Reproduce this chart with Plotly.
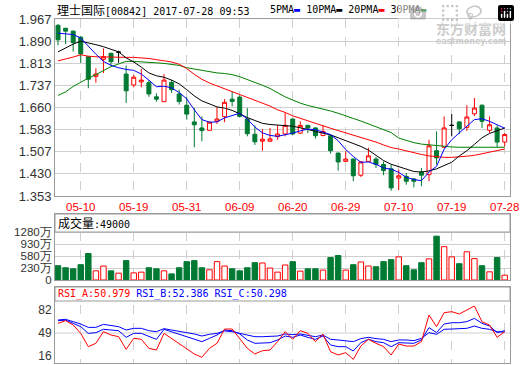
import plotly.graph_objects as go

dates = ['05-05','05-08','05-09','05-10','05-11','05-12','05-15','05-16','05-17','05-18',
         '05-19','05-22','05-23','05-24','05-25','05-26','05-29','05-31','06-01','06-02',
         '06-05','06-06','06-07','06-08','06-09','06-12','06-13','06-14','06-15','06-16',
         '06-19','06-20','06-21','06-22','06-23','06-26','06-27','06-28','06-29','06-30',
         '07-03','07-04','07-05','07-06','07-07','07-10','07-11','07-12','07-13','07-14',
         '07-17','07-18','07-19','07-20','07-21','07-24','07-25','07-26','07-27','07-28']

open_ = [1.945,1.935,1.925,1.904,1.836,1.768,1.827,1.848,1.852,1.776,
         1.738,1.749,1.746,1.697,1.680,1.747,1.707,1.668,1.610,1.589,
         1.581,1.612,1.628,1.689,1.696,1.620,1.567,1.543,1.543,1.559,
         1.568,1.620,1.571,1.598,1.589,1.563,1.562,1.502,1.473,1.481,
         1.425,1.473,1.481,1.462,1.447,1.415,1.421,1.412,1.436,1.427,
         1.510,1.522,1.598,1.610,1.591,1.638,1.668,1.581,1.589,1.540]
high = [1.950,1.936,1.927,1.908,1.839,1.796,1.865,1.850,1.857,1.806,
        1.773,1.794,1.755,1.709,1.776,1.756,1.722,1.696,1.658,1.629,
        1.611,1.661,1.689,1.716,1.702,1.658,1.598,1.585,1.589,1.598,
        1.641,1.622,1.612,1.600,1.592,1.598,1.565,1.503,1.508,1.483,
        1.474,1.520,1.488,1.473,1.462,1.444,1.433,1.415,1.450,1.548,
        1.577,1.629,1.637,1.612,1.668,1.693,1.670,1.629,1.598,1.571]
low = [1.876,1.880,1.854,1.815,1.727,1.746,1.779,1.807,1.815,1.676,
       1.730,1.730,1.697,1.680,1.680,1.711,1.670,1.618,1.522,1.543,
       1.579,1.603,1.609,1.664,1.626,1.560,1.530,1.510,1.541,1.548,
       1.560,1.565,1.568,1.571,1.552,1.560,1.500,1.441,1.470,1.404,
       1.419,1.473,1.450,1.425,1.371,1.373,1.392,1.383,1.387,1.404,
       1.462,1.520,1.560,1.568,1.579,1.630,1.589,1.572,1.522,1.525]
close = [1.895,1.925,1.885,1.846,1.758,1.776,1.836,1.819,1.852,1.718,
         1.765,1.755,1.707,1.689,1.755,1.722,1.681,1.637,1.600,1.580,
         1.609,1.620,1.678,1.681,1.629,1.569,1.541,1.550,1.551,1.568,
         1.598,1.568,1.598,1.589,1.562,1.577,1.510,1.471,1.481,1.423,
         1.471,1.492,1.462,1.441,1.381,1.423,1.404,1.404,1.425,1.527,
         1.485,1.589,1.598,1.586,1.627,1.658,1.612,1.600,1.540,1.566]

ma5 = [1.918,1.916,1.913,1.901,1.872,1.845,1.820,1.806,1.798,1.792,
       1.789,1.776,1.755,1.732,1.734,1.728,1.712,1.690,1.652,1.618,
       1.609,1.610,1.624,1.633,1.640,1.620,1.592,1.572,1.563,1.560,
       1.565,1.571,1.579,1.585,1.583,1.575,1.566,1.545,1.514,1.490,
       1.470,1.471,1.463,1.450,1.446,1.435,1.418,1.410,1.406,1.436,
       1.456,1.515,1.548,1.572,1.595,1.618,1.621,1.612,1.600,1.588]
ma10 = [1.853,1.868,1.880,1.890,1.885,1.878,1.871,1.862,1.853,1.832,
        1.818,1.800,1.780,1.770,1.765,1.755,1.742,1.722,1.700,1.683,
        1.672,1.662,1.658,1.650,1.638,1.625,1.615,1.605,1.601,1.598,
        1.597,1.595,1.590,1.584,1.577,1.572,1.565,1.555,1.545,1.535,
        1.525,1.512,1.494,1.476,1.463,1.455,1.445,1.438,1.436,1.440,
        1.447,1.458,1.470,1.492,1.510,1.532,1.555,1.570,1.580,1.589]
ma20 = [1.822,1.828,1.835,1.843,1.838,1.836,1.835,1.835,1.834,1.834,
        1.834,1.833,1.830,1.826,1.822,1.818,1.810,1.795,1.775,1.758,
        1.745,1.735,1.724,1.713,1.703,1.695,1.684,1.673,1.665,1.652,
        1.643,1.631,1.622,1.614,1.604,1.597,1.588,1.580,1.572,1.565,
        1.558,1.549,1.540,1.530,1.521,1.516,1.509,1.503,1.497,1.492,
        1.489,1.487,1.487,1.488,1.491,1.494,1.500,1.505,1.510,1.516]
ma30 = [1.702,1.714,1.733,1.748,1.762,1.774,1.788,1.802,1.811,1.820,
        1.820,1.819,1.817,1.815,1.813,1.809,1.806,1.798,1.793,1.788,
        1.783,1.780,1.778,1.774,1.767,1.757,1.749,1.737,1.726,1.711,
        1.697,1.686,1.675,1.667,1.661,1.655,1.648,1.640,1.632,1.622,
        1.613,1.603,1.594,1.585,1.573,1.554,1.545,1.538,1.533,1.530,
        1.529,1.526,1.523,1.522,1.522,1.522,1.522,1.522,1.522,1.522]

# volume, in panel units (one grid step = 350)
volume = [419,359,329,449,778,269,410,269,200,568,
          209,230,359,329,269,179,359,538,568,359,
          299,538,410,329,269,359,508,499,350,230,
          440,538,260,329,329,290,658,718,290,449,
          529,410,389,538,598,679,419,299,508,619,
          1286,978,679,478,828,628,419,239,658,141]
vol_tickvals = [0, 350, 700, 1050, 1400]
vol_ticktext = ['0', '230万', '580万', '930万', '1280万']

rsi_a = [62.9,66.7,60.5,48.5,29.4,34.2,50.9,46.1,43.7,25.6,
         41.4,40.0,27.0,24.6,48.5,41.4,34.2,27.0,18.9,14.1,
         27.0,34.2,54.7,54.7,41.4,27.0,18.9,23.6,24.6,36.6,
         50.9,40.0,52.3,48.5,36.6,47.5,22.2,17.4,20.8,11.2,
         30.3,40.0,34.2,29.4,17.4,33.2,30.3,30.3,36.6,74.8,
         58.1,78.2,79.6,76.3,82.0,87.7,65.2,60.5,42.8,51.0]
rsi_b = [66.7,67.4,62.9,58.1,48.5,49.5,54.3,53.3,52.3,42.8,
         48.5,48.5,44.7,39.9,54.3,50.9,47.6,43.7,39.9,36.6,
         41.3,46.1,53.3,52.3,47.6,39.0,34.2,34.2,35.1,39.0,
         44.7,42.8,46.1,42.8,39.9,44.7,31.8,29.4,29.4,23.2,
         35.1,39.9,36.6,35.1,29.4,35.1,35.1,34.2,39.0,56.7,
         49.5,61.9,63.8,63.8,65.3,70.0,62.9,59.0,49.5,52.4]
rsi_c = [67.7,68.6,65.3,61.9,57.1,57.1,61.4,59.5,58.1,53.3,
         55.7,55.7,52.3,50.9,55.2,53.3,50.9,49.5,47.6,44.7,
         47.1,48.5,51.9,50.9,48.5,46.1,43.7,43.7,43.7,44.7,
         47.6,46.6,47.6,46.1,43.7,46.1,39.9,39.0,38.0,36.6,
         40.9,42.8,40.9,39.9,36.6,39.0,39.0,38.0,41.3,49.5,
         47.1,54.3,54.7,54.7,55.7,59.0,55.7,54.3,50.9,50.3]

price_ticks = [1.353, 1.430, 1.507, 1.583, 1.660, 1.737, 1.813, 1.890, 1.967]
rsi_ticks = [16, 49, 82]
label_every = 7
label_start = 3

RED = '#ff0000'
GREEN = '#007a33'
GRID = '#cfcfcf'
FRAME = '#9a9a9a'

idx = list(range(len(dates)))
up = [i for i in idx if close[i] > open_[i]]
dn = [i for i in idx if close[i] < open_[i]]
dj = [i for i in idx if close[i] == open_[i]]

def sub(arr, ids):
    return [arr[i] for i in ids]

fig = go.Figure()

def candle(ids, line_col, fill_col):
    return go.Candlestick(
        x=ids, open=sub(open_, ids), high=sub(high, ids), low=sub(low, ids), close=sub(close, ids),
        increasing=dict(line=dict(color=line_col, width=1), fillcolor=fill_col),
        decreasing=dict(line=dict(color=line_col, width=1), fillcolor=fill_col),
        whiskerwidth=0, showlegend=False, hoverinfo='skip', xaxis='x', yaxis='y')

fig.add_trace(candle(up, RED, '#ffffff'))
fig.add_trace(candle(dn, GREEN, GREEN))
fig.add_trace(candle(dj, '#000000', '#000000'))

for vals, col in [(ma30, '#008000'), (ma20, RED), (ma10, '#000000'), (ma5, '#0000ff')]:
    fig.add_trace(go.Scatter(x=idx, y=vals, mode='lines', line=dict(color=col, width=1),
                             showlegend=False, hoverinfo='skip', xaxis='x', yaxis='y'))

vup = [i for i in idx if close[i] >= open_[i]]
vdn = [i for i in idx if close[i] < open_[i]]
fig.add_trace(go.Bar(x=vup, y=sub(volume, vup), width=0.72,
                     marker=dict(color='#ffffff', line=dict(color=RED, width=1)),
                     showlegend=False, hoverinfo='skip', xaxis='x2', yaxis='y2'))
fig.add_trace(go.Bar(x=vdn, y=sub(volume, vdn), width=0.72,
                     marker=dict(color=GREEN, line=dict(color=GREEN, width=1)),
                     showlegend=False, hoverinfo='skip', xaxis='x2', yaxis='y2'))

for vals, col in [(rsi_c, '#0000ff'), (rsi_b, '#0000ff'), (rsi_a, RED)]:
    fig.add_trace(go.Scatter(x=idx, y=vals, mode='lines', line=dict(color=col, width=1),
                             showlegend=False, hoverinfo='skip', xaxis='x3', yaxis='y3'))

tickvals = idx[label_start::label_every]
ticktext = dates[label_start::label_every]
xrange = [-0.4, 59.7]

xcommon = dict(range=xrange, tickvals=tickvals, showgrid=True, gridcolor=GRID, griddash='dash',
               gridwidth=1, showline=True, mirror=True, linecolor=FRAME, linewidth=1,
               ticks='', zeroline=False, fixedrange=True, automargin=False,
               rangeslider=dict(visible=False))
ycommon = dict(showline=True, mirror=True, linecolor=FRAME, ticks='', zeroline=False,
               fixedrange=True, automargin=False)

TICKFONT = dict(family='Liberation Sans, Arial', size=12, color='#333333')

fig.update_layout(
    width=520, height=365,
    margin=dict(l=55, r=10, t=19, b=2),
    paper_bgcolor='white', plot_bgcolor='white',
    boxgap=0.25, barmode='overlay',
    xaxis=dict(domain=[0, 1], anchor='y', ticktext=ticktext,
               tickfont=dict(family='Liberation Sans, Arial', size=11.5, color=RED), **xcommon),
    xaxis2=dict(domain=[0, 1], anchor='y2', matches='x', showticklabels=False, **xcommon),
    xaxis3=dict(domain=[0, 1], anchor='y3', matches='x', showticklabels=False, **xcommon),
    yaxis=dict(domain=[0.4855, 1], range=[1.3529, 1.9671], tickvals=price_ticks,
               ticktext=['%.3f' % v for v in price_ticks], tickfont=dict(TICKFONT, size=13),
               showgrid=True, gridcolor=GRID, **ycommon),
    yaxis2=dict(domain=[0.2413, 0.4331], range=[0, 1936], tickvals=vol_tickvals,
                ticktext=vol_ticktext, tickfont=dict(TICKFONT, size=11.5),
                showgrid=True, gridcolor=GRID, **ycommon),
    yaxis3=dict(domain=[0, 0.2209], range=[5.96, 115.0], tickvals=rsi_ticks,
                tickfont=TICKFONT, showgrid=False, **ycommon),
)

fig.add_shape(type='line', xref='paper', x0=0, x1=1, yref='y3', y0=49, y1=49,
              line=dict(color=GRID, width=1), layer='below')
fig.add_shape(type='rect', xref='paper', x0=0, x1=1, yref='paper', y0=0.3808, y1=0.4331,
              fillcolor='white', line=dict(color=FRAME, width=1), layer='above')
fig.add_shape(type='rect', xref='paper', x0=0, x1=1, yref='paper', y0=0.1802, y1=0.2209,
              fillcolor='white', line=dict(color=FRAME, width=1), layer='above')

MONO = 'DejaVu Sans Mono'
CJK = 'style="font-family:Noto Sans CJK SC;font-size:12px"'

fig.add_annotation(xref='paper', yref='paper', x=0, y=1.029, xanchor='left', yanchor='middle',
                   showarrow=False, font=dict(family=MONO, size=10, color='#000000'),
                   text='<span %s>理士国际</span>[00842] 2017-07-28 09:53' % CJK)
legend_items = [('5PMA', '#0000ff'), ('10PMA', '#000000'), ('20PMA', RED), ('30PMA', '#008000')]
legend_text = ' '.join('%s<span style="color:%s">▬</span>' % (n, c) for n, c in legend_items)
fig.add_annotation(xref='paper', yref='paper', x=0.468, y=1.029, xanchor='left', yanchor='middle',
                   showarrow=False, font=dict(family=MONO, size=10, color='#000000'),
                   text=legend_text)
fig.add_annotation(xref='paper', yref='paper', x=0.002, y=0.407, xanchor='left', yanchor='middle',
                   showarrow=False, font=dict(family=MONO, size=10, color='#000000'),
                   text='<span %s>成交量</span>:49000' % CJK)
fig.add_annotation(xref='paper', yref='paper', x=0.002, y=0.2006, xanchor='left', yanchor='middle',
                   showarrow=False, font=dict(family=MONO, size=10, color='#0000ff'),
                   text='<span style="color:#ff0000">RSI_A:50.979</span> RSI_B:52.386 RSI_C:50.298')
fig.add_annotation(xref='paper', yref='paper', x=0.995, y=0.974, xanchor='right', yanchor='middle',
                   showarrow=False, font=dict(family='Noto Sans CJK SC', size=14, color='#cccccc'),
                   text='<b>东方财富网</b>')
fig.add_annotation(xref='paper', yref='paper', x=0.995, y=0.934, xanchor='right', yanchor='middle',
                   showarrow=False, font=dict(family='DejaVu Sans', size=8, color='#cccccc'),
                   text='<b>eastmoney.com</b>')

# the page's default body margin would offset the figure by 8px
fig.write_html('out.html', post_script="document.body.style.margin='0';")
